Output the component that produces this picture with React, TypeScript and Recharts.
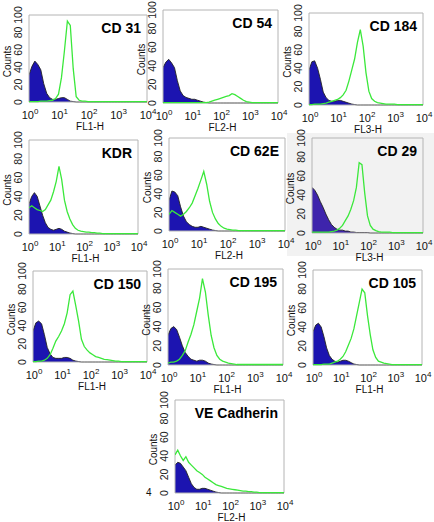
import React from "react";
import { ComposedChart, Area, Line, XAxis, YAxis, ReferenceArea } from "recharts";

// fluorescence channels, log spaced 10^0 .. 10^4 (0.1 decade steps)
const channels = [
  1, 1.26, 1.58, 2, 2.51, 3.16, 3.98, 5.01, 6.31, 7.94,
  10, 12.6, 15.8, 20, 25.1, 31.6, 39.8, 50.1, 63.1, 79.4,
  100, 126, 158, 200, 251, 316, 398, 501, 631, 794,
  1000, 1259, 1585, 1995, 2512, 3162, 3981, 5012, 6310, 7943,
  10000,
];
const xTicks = [1, 10, 100, 1000, 10000];
const yTicks = [0, 20, 40, 60, 80, 100];

const cd31Isotype = [
  31, 41, 47, 43, 37, 21, 10, 5, 3, 3,
  4, 5, 5, 3, 1, 0.5, 0, 0, 0, 0,
  0, 0, 0, 0, 0, 0, 0, 0, 0, 0,
  0, 0, 0, 0, 0, 0, 0, 0, 0, 0,
  0,
];
const cd31Stain = [
  0.5, 0.5, 0.5, 0.5, 1, 1, 1, 1.5, 2, 4,
  9, 28, 58, 93, 88, 38, 6, 2, 1, 1,
  0.5, 0.5, 0.5, 0.5, 0.5, 0.5, 0.5, 0.5, 0.5, 0.5,
  0.5, 0.5, 0.5, 0.5, 0.5, 0.5, 0.5, 0.5, 0.5, 0.5,
  0.5,
];

const cd54Isotype = [
  38, 44, 47, 43, 38, 24, 13, 8, 6, 5,
  4, 4, 3, 2, 1, 0.5, 0, 0, 0, 0,
  0, 0, 0, 0, 0, 0, 0, 0, 0, 0,
  0, 0, 0, 0, 0, 0, 0, 0, 0, 0,
  0,
];
const cd54Stain = [
  0.5, 0.5, 0.5, 0.5, 0.5, 0.5, 0.5, 0.5, 0.5, 0.5,
  0.5, 0.5, 0.5, 0.5, 0.5, 0.5, 1, 2, 3, 4,
  5, 6, 7, 8, 10, 9, 7, 5, 3, 1.5,
  1, 0.5, 0.5, 0.5, 0.5, 0.5, 0.5, 0.5, 0.5, 0.5,
  0.5,
];

const cd184Isotype = [
  38, 47, 48, 40, 28, 14, 8, 5, 4, 4,
  5, 5, 4, 3, 2, 1, 0.5, 0, 0, 0,
  0, 0, 0, 0, 0, 0, 0, 0, 0, 0,
  0, 0, 0, 0, 0, 0, 0, 0, 0, 0,
  0,
];
const cd184Stain = [
  0.5, 0.5, 1, 1, 1, 1.5, 2, 3, 4, 5,
  6, 8, 11, 16, 26, 38, 50, 68, 82, 64,
  35, 15, 7, 4, 2.5, 2, 1.5, 1, 1, 1,
  1, 0.5, 0.5, 0.5, 0.5, 0.5, 0.5, 0.5, 0.5, 0.5,
  0.5,
];

const kdrIsotype = [
  32, 40, 44, 40, 30, 20, 12, 7, 5, 4,
  5, 6, 5, 3, 2, 1, 0.5, 0, 0, 0,
  0, 0, 0, 0, 0, 0, 0, 0, 0, 0,
  0, 0, 0, 0, 0, 0, 0, 0, 0, 0,
  0,
];
const kdrStain = [
  28, 30, 28, 26, 25, 24, 26, 31, 36, 45,
  56, 72, 58, 36, 24, 16, 10, 6, 4, 3,
  2.5, 2, 2, 1.5, 1.5, 1, 1, 0.5, 0.5, 0.5,
  0.5, 0.5, 0.5, 0.5, 0.5, 0.5, 0.5, 0.5, 0.5, 0.5,
  0.5,
];

const cd62eIsotype = [
  33, 43, 42, 38, 26, 16, 10, 7, 5, 4,
  4, 5, 4, 3, 2, 1, 0.5, 0, 0, 0,
  0, 0, 0, 0, 0, 0, 0, 0, 0, 0,
  0, 0, 0, 0, 0, 0, 0, 0, 0, 0,
  0,
];
const cd62eStain = [
  18, 22, 20, 18, 16, 18, 21, 25, 30, 38,
  46, 55, 64, 50, 32, 20, 13, 8, 5, 3,
  2, 1.5, 1, 1, 0.5, 0.5, 0.5, 0.5, 0.5, 0.5,
  0.5, 0.5, 0.5, 0.5, 0.5, 0.5, 0.5, 0.5, 0.5, 0.5,
  0.5,
];

const cd29Isotype = [
  48, 45, 40, 33, 27, 20, 14, 9, 6, 4,
  3, 3, 2, 2, 1, 1, 0.5, 0.5, 0.5, 0.5,
  0.5, 0, 0, 0, 0, 0, 0, 0, 0, 0,
  0, 0, 0, 0, 0, 0, 0, 0, 0, 0,
  0,
];
const cd29Stain = [
  1, 1, 1, 1, 1, 1, 1, 1.5, 2, 3,
  5, 8, 13, 18, 25, 34, 48, 74, 72, 42,
  18, 8, 4, 2.5, 1.5, 1, 1, 1, 1, 0.5,
  0.5, 0.5, 0.5, 0.5, 0.5, 0.5, 0.5, 0.5, 0.5, 0.5,
  0.5,
];

const cd150Isotype = [
  34, 43, 45, 42, 30, 16, 9, 5, 4, 4,
  4, 5, 5, 4, 2, 1, 0.5, 0, 0, 0,
  0, 0, 0, 0, 0, 0, 0, 0, 0, 0,
  0, 0, 0, 0, 0, 0, 0, 0, 0, 0,
  0,
];
const cd150Stain = [
  0.5, 0.5, 1, 1, 2, 4, 8, 15, 23, 28,
  34, 42, 54, 74, 78, 62, 45, 25, 17, 13,
  10, 8, 6, 5, 4, 3, 2.5, 2, 1.5, 1,
  1, 0.5, 0.5, 0.5, 0.5, 0.5, 0.5, 0.5, 0.5, 0.5,
  0.5,
];

const cd195Isotype = [
  31, 38, 40, 37, 29, 20, 13, 9, 6, 5,
  4, 5, 5, 4, 2, 1, 0.5, 0, 0, 0,
  0, 0, 0, 0, 0, 0, 0, 0, 0, 0,
  0, 0, 0, 0, 0, 0, 0, 0, 0, 0,
  0,
];
const cd195Stain = [
  2, 3, 3, 4, 6, 10, 15, 24, 32, 42,
  56, 70, 90, 76, 52, 31, 18, 10, 6, 4,
  3, 2, 1.5, 1, 0.5, 0.5, 0.5, 0.5, 0.5, 0.5,
  0.5, 0.5, 0.5, 0.5, 0.5, 0.5, 0.5, 0.5, 0.5, 0.5,
  0.5,
];

const cd105Isotype = [
  35, 42, 44, 40, 30, 18, 10, 6, 4, 3,
  4, 5, 5, 4, 2.5, 1, 0.5, 0, 0, 0,
  0, 0, 0, 0, 0, 0, 0, 0, 0, 0,
  0, 0, 0, 0, 0, 0, 0, 0, 0, 0,
  0,
];
const cd105Stain = [
  0.5, 0.5, 0.5, 0.5, 1, 1, 1, 2, 3, 4,
  6, 9, 14, 21, 28, 38, 52, 66, 80, 76,
  52, 32, 16, 8, 4, 3, 2, 1.5, 1, 0.5,
  0.5, 0.5, 0.5, 0.5, 0.5, 0.5, 0.5, 0.5, 0.5, 0.5,
  0.5,
];

const veIsotype = [
  30, 33, 32, 28, 24, 17, 10, 6, 4, 4,
  5, 5, 4, 3, 2, 1, 0.5, 0, 0, 0,
  0, 0, 0, 0, 0, 0, 0, 0, 0, 0,
  0, 0, 0, 0, 0, 0, 0, 0, 0, 0,
  0,
];
const veStain = [
  41, 46, 40, 35, 39, 33, 30, 27, 24, 22,
  20, 17, 15, 13, 11, 9, 8, 7, 6, 5,
  4.5, 4, 3.5, 3, 2.5, 2, 2, 1.5, 1.5, 1,
  1, 0.5, 0.5, 0.5, 0.5, 0.5, 0.5, 0.5, 0.5, 0.5,
  0.5,
];

const FONT = "Arial, 'Liberation Sans', sans-serif";
const ISO_BLUE = "#1c14b0";
const STAIN_GREEN = "#3be83b";

type Panel = {
  title: string;
  axis: string;
  isotype: number[];
  stain: number[];
  box: [number, number, number, number]; // plot area left, top, right, bottom
  fill?: string;
};

const panels: Panel[] = [
  { title: "CD 31", axis: "FL1-H", isotype: cd31Isotype, stain: cd31Stain, box: [29, 15, 147, 102] },
  { title: "CD 54", axis: "FL2-H", isotype: cd54Isotype, stain: cd54Stain, box: [163, 10, 278, 103] },
  { title: "CD 184", axis: "FL3-H", isotype: cd184Isotype, stain: cd184Stain, box: [309, 13, 423, 105] },
  { title: "KDR", axis: "FL1-H", isotype: kdrIsotype, stain: kdrStain, box: [29, 140, 138, 234] },
  { title: "CD 62E", axis: "FL2-H", isotype: cd62eIsotype, stain: cd62eStain, box: [169, 138, 285, 231] },
  { title: "CD 29", axis: "FL3-H", isotype: cd29Isotype, stain: cd29Stain, box: [312, 138, 423, 233], fill: "#3e24ac" },
  { title: "CD 150", axis: "FL1-H", isotype: cd150Isotype, stain: cd150Stain, box: [33, 271, 147, 362] },
  { title: "CD 195", axis: "FL1-H", isotype: cd195Isotype, stain: cd195Stain, box: [168, 269, 283, 365] },
  { title: "CD 105", axis: "FL1-H", isotype: cd105Isotype, stain: cd105Stain, box: [313, 270, 422, 365] },
  { title: "VE Cadherin", axis: "FL2-H", isotype: veIsotype, stain: veStain, box: [175, 400, 284, 493] },
];

const Y_W = 30;
const X_H = 32;
const M_TOP = 12;
const M_RIGHT = 12;

const XTick = (props: any) => {
  const { x, y, payload } = props;
  const exp = Math.round(Math.log10(payload.value));
  return (
    <text x={x + 1} y={y + 17} textAnchor="middle" fontFamily={FONT} fontSize={11} fill="#111">
      10
      <tspan dy={-5} fontSize={8}>{exp}</tspan>
    </text>
  );
};

const YTick = (props: any) => {
  const { x, y, payload } = props;
  const tx = x - 11;
  return (
    <text
      x={tx}
      y={y}
      transform={`rotate(-90, ${tx}, ${y})`}
      textAnchor="middle"
      dominantBaseline="central"
      fontFamily={FONT}
      fontSize={10.5}
      fill="#222"
    >
      {payload.value}
    </text>
  );
};

const HistPanel = ({ p }: { p: Panel }) => {
  const [l, t, r, b] = p.box;
  const width = r - l + Y_W + M_RIGHT;
  const height = b - t + M_TOP + X_H;
  const data = channels.map((c, i) => ({ channel: c, isotype: p.isotype[i], stain: p.stain[i] }));

  return (
    <div style={{ position: "absolute", left: l - Y_W, top: t - M_TOP }}>
      <ComposedChart width={width} height={height} data={data} margin={{ top: M_TOP, right: M_RIGHT, left: 0, bottom: 0 }}>
        <XAxis
          dataKey="channel"
          type="number"
          scale="log"
          domain={[1, 10000]}
          ticks={xTicks}
          interval={0}
          allowDataOverflow
          height={X_H}
          tickSize={0}
          tickMargin={0}
          axisLine={false}
          tickLine={false}
          tick={<XTick />}
          label={(lp: any) => {
            const vb = lp.viewBox;
            return (
              <text x={vb.x + vb.width / 2 + 2} y={vb.y + 28} textAnchor="middle" fontFamily={FONT} fontSize={10} fill="#111">
                {p.axis}
              </text>
            );
          }}
        />
        <YAxis
          type="number"
          domain={[0, 100]}
          ticks={yTicks}
          interval={0}
          width={Y_W}
          tickSize={0}
          tickMargin={0}
          axisLine={false}
          tickLine={false}
          tick={<YTick />}
          label={(lp: any) => {
            const vb = lp.viewBox;
            const cx = vb.x + vb.width - 22;
            const cy = vb.y + vb.height / 2 + 3;
            return (
              <text
                x={cx}
                y={cy}
                transform={`rotate(-90, ${cx}, ${cy})`}
                textAnchor="middle"
                dominantBaseline="central"
                fontFamily={FONT}
                fontSize={10}
                fill="#111"
              >
                Counts
              </text>
            );
          }}
        />
        <Area
          type="linear"
          dataKey="isotype"
          fill={p.fill ?? ISO_BLUE}
          fillOpacity={1}
          stroke="#222"
          strokeWidth={0.9}
          dot={false}
          activeDot={false}
          isAnimationActive={false}
        />
        <Line
          type="linear"
          dataKey="stain"
          stroke={STAIN_GREEN}
          strokeWidth={1.3}
          dot={false}
          activeDot={false}
          isAnimationActive={false}
        />
        <ReferenceArea
          x1={1}
          x2={10000}
          y1={0}
          y2={100}
          fill="none"
          fillOpacity={0}
          stroke="#b4b4b4"
          strokeWidth={1}
          ifOverflow="visible"
          label={(lp: any) => {
            const vb = lp.viewBox;
            return (
              <text
                x={vb.x + vb.width - 6}
                y={vb.y + 18}
                textAnchor="end"
                fontFamily={FONT}
                fontSize={14}
                fontWeight="bold"
                fill="#000"
              >
                {p.title}
              </text>
            );
          }}
        />
      </ComposedChart>
    </div>
  );
}

export default function App() {
  return (
    <div style={{ position: "absolute", left: 0, top: 0, width: 434, height: 522, background: "#fff", fontFamily: FONT }}>
      <div style={{ position: "absolute", left: 287, top: 133, width: 147, height: 123, background: "#f2f2f2" }} />
      {panels.map((p) => (
        <HistPanel key={p.title} p={p} />
      ))}
      <span style={{ position: "absolute", left: 146, top: 487, fontSize: 10, color: "#111" }}>4</span>
    </div>
  );
}
